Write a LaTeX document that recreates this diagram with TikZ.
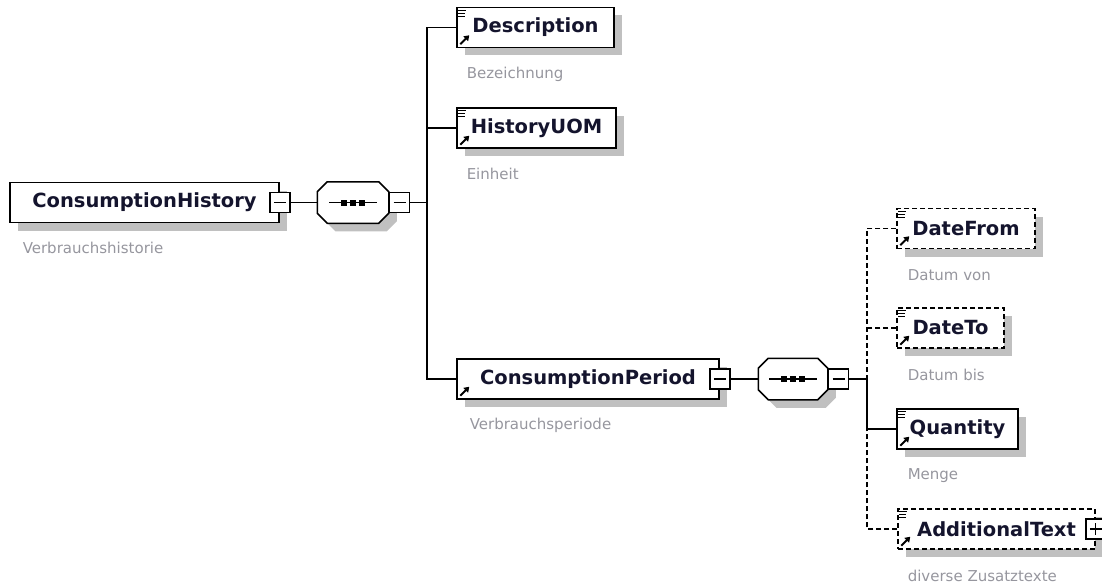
\documentclass[tikz,border=0pt]{standalone}
\usepackage{fontspec}
\setmainfont{DejaVu Sans}
\usetikzlibrary{shadows, arrows.meta}

\definecolor{notegray}{RGB}{150,150,158}
\definecolor{namecol}{RGB}{20,20,45}
\definecolor{shadowgray}{RGB}{192,192,192}

% small marks in the element boxes
\newcommand{\reflines}[1]{%
  \foreach \ly/\lx in {3.5/8, 6.5/7, 9.5/7}
    \draw[line width=1.3pt] ([xshift=2pt, yshift=-\ly pt]#1.north west) -- ++(\lx pt, 0pt);}
\newcommand{\refarrow}[1]{%
  \draw[line width=2pt, -{Triangle[length=5pt, width=6.5pt]}] ([xshift=4pt, yshift=4pt]#1.south west) -- ++(9pt, 9pt);}
% octagon round a sequence node, with its three dots
\newcommand{\seqbox}[1]{%
  \path[seqline] ([xshift=10pt]#1.north west) -- ([xshift=-10pt]#1.north east)
    -- ([yshift=-10pt]#1.north east) -- ([yshift=10pt]#1.south east)
    -- ([xshift=-10pt]#1.south east) -- ([xshift=10pt]#1.south west)
    -- ([yshift=10pt]#1.south west) -- ([yshift=-10pt]#1.north west) -- cycle;
  \draw ([xshift=-24pt]#1.center) -- ([xshift=24pt]#1.center);
  \foreach \dx in {-9,0,9}
    \fill ([xshift=\dx pt]#1.center) +(-3pt,-3pt) rectangle +(3pt,3pt);}

\begin{document}
\begin{tikzpicture}[x=1pt, y=-1pt, line width=1.5pt,
    elem/.style={draw, fill=white, minimum height=40pt, inner sep=0pt, text=namecol,
        font=\fontsize{19.5}{22}\selectfont\bfseries,
        drop shadow={shadow xshift=8pt, shadow yshift=-8pt, fill=shadowgray, opacity=1}},
    optional/.style={dash pattern=on 5pt off 3pt},
    seq/.style={minimum width=70pt, minimum height=40pt, inner sep=0pt},
    seqline/.style={draw, fill=white,
        drop shadow={shadow xshift=8pt, shadow yshift=-8pt, fill=shadowgray, opacity=1}},
    minus/.style={draw, fill=white, minimum size=20pt, inner sep=0pt,
        path picture={\draw[line width=1.3pt] ([xshift=4pt]path picture bounding box.west) -- ([xshift=-4pt]path picture bounding box.east);}},
    plus/.style={draw, fill=white, minimum size=20pt, inner sep=0pt,
        path picture={\draw[line width=1.3pt] ([xshift=4pt]path picture bounding box.west) -- ([xshift=-4pt]path picture bounding box.east);
            \draw[line width=1.3pt] ([yshift=-4pt]path picture bounding box.north) -- ([yshift=4pt]path picture bounding box.south);}},
    note/.style={anchor=base west, text=notegray, font=\fontsize{15}{18}\selectfont, inner sep=0pt}]
    \useasboundingbox (0,0) rectangle (1102,586);

    \node[elem, minimum width=269pt] (ch) at (144.5, 202.5) {ConsumptionHistory};
    \node[minus] (chm) at (ch.east) {};
    \node[note] (chnote) at (22, 253) {Verbrauchshistorie};

    \node[seq] (s1) at (353, 202.5) {};
    \seqbox{s1}
    \node[minus, anchor=west] (s1m) at (s1.east) {};
    \coordinate (j1) at (427, 202.5);

    \node[elem, minimum width=157pt] (desc) at (535.5, 27.5) {Description};
    \node[note] (descnote) at (466, 78) {Bezeichnung};
    \node[elem, minimum width=159pt] (uom) at (536.5, 128) {HistoryUOM};
    \node[note] (uomnote) at (466, 179) {Einheit};
    \node[elem, minimum width=262pt] (cp) at (588, 379) {ConsumptionPeriod};
    \node[minus] (cpm) at (cp.east) {};
    \node[note] (cpnote) at (469, 429) {Verbrauchsperiode};

    \node[seq, minimum width=68pt] (s2) at (793, 379) {};
    \seqbox{s2}
    \node[minus, anchor=west] (s2m) at (s2.east) {};
    \coordinate (j2) at (867, 379);

    \node[elem, optional, minimum width=138pt] (df) at (966, 228.5) {DateFrom};
    \node[note] (dfnote) at (907, 280) {Datum von};
    \node[elem, optional, minimum width=107pt] (dt) at (950.5, 328) {DateTo};
    \node[note] (dtnote) at (907, 380) {Datum bis};
    \node[elem, minimum width=121pt] (qty) at (957.5, 429) {Quantity};
    \node[note] (qtynote) at (907, 479) {Menge};
    \node[elem, optional, minimum width=197pt] (addtext) at (996.5, 529) {AdditionalText};
    \node[plus] (addtextp) at (addtext.east) {};
    \node[note] (addtextnote) at (907, 581) {diverse Zusatztexte};

    \reflines{desc} \refarrow{desc}
    \reflines{uom} \refarrow{uom}
    \refarrow{cp}
    \reflines{df} \refarrow{df}
    \reflines{dt} \refarrow{dt}
    \reflines{qty} \refarrow{qty}
    \reflines{addtext} \refarrow{addtext}

    \draw (chm) -- (s1);
    \draw (s1m) -- (j1);
    \draw (desc.west) -| (j1);
    \draw (uom.west) -| (j1);
    \draw (cp.west) -| (j1);

    \draw (cpm) -- (s2);
    \draw (s2m) -- (j2);
    \draw[optional] (df.west) -| (j2);
    \draw[optional] (dt.west) -- (dt.west -| j2);
    \draw (qty.west) -| (j2);
    \draw[optional] (addtext.west) -| (j2);
\end{tikzpicture}
\end{document}
